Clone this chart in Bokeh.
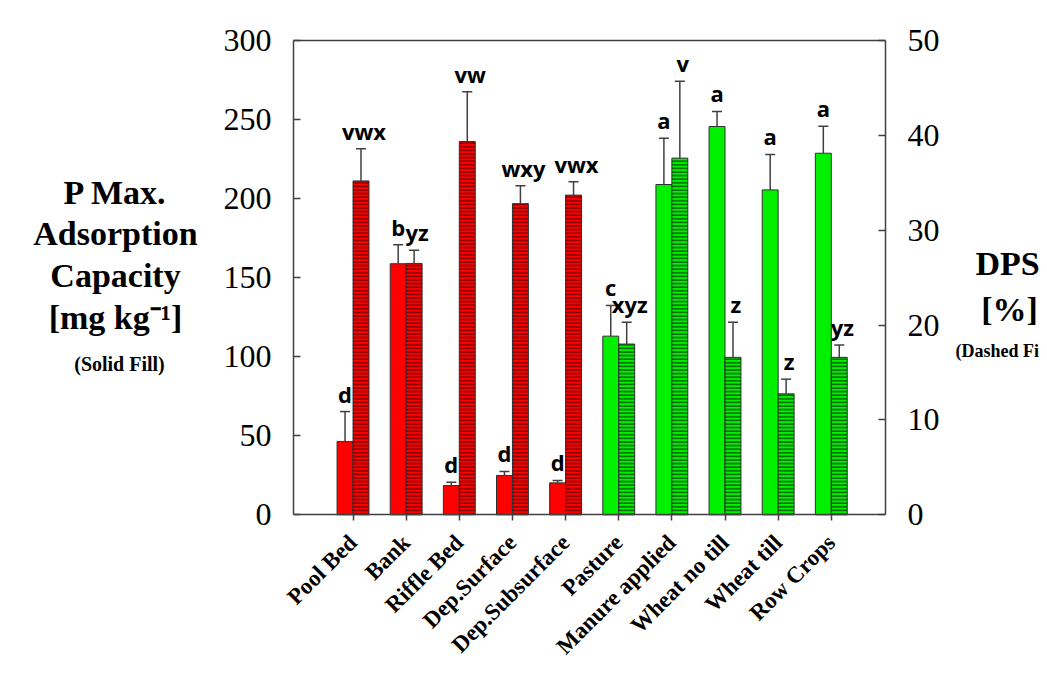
import numpy as np
from bokeh.plotting import figure
from bokeh.models import Range1d, LinearAxis, FixedTicker, Label, ColumnDataSource
from bokeh.embed import file_html
from bokeh.resources import INLINE
from bokeh.core.properties import value

# ---------------- data ----------------
categories = ["Pool Bed", "Bank", "Riffle Bed", "Dep.Surface", "Dep.Subsurface",
              "Pasture", "Manure applied", "Wheat no till", "Wheat till", "Row Crops"]
pmax = [46.4, 158.8, 18.5, 24.9, 20.2, 113.0, 208.9, 245.6, 205.5, 228.7]
pmax_err = [18.9, 12.0, 2.1, 2.5, 1.5, 19.4, 29.3, 9.5, 22.4, 17.1]
pmax_letters = ["d", "b", "d", "d", "d", "c", "a", "a", "a", "a"]
dps = [35.2, 26.5, 39.35, 32.8, 33.7, 18.0, 37.6, 16.6, 12.75, 16.6]
dps_err = [3.4, 1.4, 5.25, 1.9, 1.4, 2.3, 8.1, 3.7, 1.55, 1.3]
dps_letters = ["vwx", "yz", "vw", "wxy", "vwx", "xyz", "v", "z", "z", "yz"]
groups = ["stream"] * 5 + ["field"] * 5
left_ticks = [0, 50, 100, 150, 200, 250, 300]
right_ticks = [0, 10, 20, 30, 40, 50]

# ---------------- layout / styling ----------------
W, H = 1039, 660
PLOT_L, PLOT_R = 293, 885          # pixel positions of the left / right axes
PLOT_T, PLOT_B = 40, 514.3         # pixel positions of 300 and 0
X_LO, X_HI = -0.12, 11.02          # data x at the left / right axes
Y_LO, Y_HI = 0, 300
DPS_HI = 50

px_x = (PLOT_R - PLOT_L) / (X_HI - X_LO)
px_y = (PLOT_B - PLOT_T) / (Y_HI - Y_LO)
x_start = X_LO - PLOT_L / px_x
x_end = X_HI + (W - PLOT_R) / px_x
y_start = Y_LO - (H - PLOT_B) / px_y
y_end = Y_HI + PLOT_T / px_y
k = DPS_HI / Y_HI

RED = "#ff0000"
GREEN = "#00f000"
HATCH = {"stream": "#5a0000", "field": "#0a3a0a"}
AXIS = "#404040"
BAR_W = 0.3

pos = np.arange(1, len(categories) + 1)
fill = [RED if g == "stream" else GREEN for g in groups]
hatch_col = [HATCH[g] for g in groups]

src = ColumnDataSource(dict(
    xs=pos - BAR_W / 2, xh=pos + BAR_W / 2,
    pmax=pmax, pmax_top=[v + e for v, e in zip(pmax, pmax_err)], pl=pmax_letters,
    dps=dps, dps_top=[v + e for v, e in zip(dps, dps_err)], dl=dps_letters,
    fill=fill, hatch=hatch_col,
))

p = figure(width=W, height=H, output_backend="svg", toolbar_location=None,
           x_range=Range1d(x_start, x_end), y_range=Range1d(y_start, y_end),
           min_border=0)
p.extra_y_ranges = {"dps": Range1d(y_start * k, y_end * k)}
p.grid.visible = False
p.background_fill_color = "white"
p.border_fill_color = "white"
p.outline_line_color = None

# solid bars (P max)
p.vbar(x="xs", top="pmax", bottom=0, width=BAR_W, source=src,
       fill_color="fill", line_color="#303030", line_width=1)
# hatched bars (DPS)
p.vbar(x="xh", top="dps", bottom=0, width=BAR_W, source=src, y_range_name="dps",
       fill_color="fill", line_color="#303030", line_width=1,
       hatch_pattern="-", hatch_color="hatch", hatch_scale=3.6, hatch_weight=1.2)

# error bars
p.segment(x0="xs", y0="pmax", x1="xs", y1="pmax_top", source=src,
          line_color=AXIS, line_width=1.5)
p.scatter(x="xs", y="pmax_top", source=src, marker="dash", size=10,
          line_color=AXIS, line_width=1.5)
p.segment(x0="xh", y0="dps", x1="xh", y1="dps_top", source=src, y_range_name="dps",
          line_color=AXIS, line_width=1.5)
p.scatter(x="xh", y="dps_top", source=src, y_range_name="dps", marker="dash", size=10,
          line_color=AXIS, line_width=1.5)

# letters
lab_font = value("Open Sans")
p.text(x="xs", y="pmax_top", text="pl", source=src, text_align="center",
       text_baseline="alphabetic", y_offset=-18, text_font=lab_font,
       text_font_style="bold", text_font_size="22px", text_color="black")
p.text(x="xh", y="dps_top", text="dl", source=src, y_range_name="dps",
       text_align="center", text_baseline="alphabetic", y_offset=-18, x_offset=3,
       text_font=lab_font, text_font_style="bold", text_font_size="22px",
       text_color="black")

# axes (fixed in place so that the frame covers the whole canvas)
serif = "Liberation Serif"
ly = p.yaxis[0]
ly.ticker = FixedTicker(ticks=left_ticks)
ly.fixed_location = X_LO
ly.bounds = (Y_LO, Y_HI)
ry = LinearAxis(y_range_name="dps", ticker=FixedTicker(ticks=right_ticks),
                fixed_location=X_HI, bounds=(0, DPS_HI))
p.add_layout(ry, "right")
for ax in (ly, ry):
    ax.axis_line_color = AXIS
    ax.axis_line_width = 1.5
    ax.major_tick_line_color = AXIS
    ax.major_tick_line_width = 1.5
    ax.major_tick_in = 7
    ax.major_tick_out = 0
    ax.minor_tick_line_color = None
    ax.major_label_text_font = serif
    ax.major_label_text_font_size = "32px"
    ax.major_label_text_color = "black"
    ax.major_label_standoff = 22

xa = p.xaxis[0]
xa.fixed_location = Y_LO
xa.bounds = (X_LO, X_HI)
xa.ticker = FixedTicker(ticks=list(pos))
xa.major_label_overrides = {int(i): c for i, c in zip(pos, categories)}
xa.major_label_orientation = np.pi / 4
xa.major_label_text_font = serif
xa.major_label_text_font_style = "bold"
xa.major_label_text_font_size = "23px"
xa.major_label_text_color = "black"
xa.major_label_standoff = 18
xa.axis_line_color = AXIS
xa.axis_line_width = 1.5
xa.major_tick_line_color = AXIS
xa.major_tick_line_width = 1.5
xa.major_tick_in = 0
xa.major_tick_out = 6
xa.minor_tick_line_color = None

# top border of the plot area
top = LinearAxis(fixed_location=Y_HI, bounds=(X_LO, X_HI), ticker=FixedTicker(ticks=[]),
                 axis_line_color=AXIS, axis_line_width=1.5,
                 major_tick_line_color=None, minor_tick_line_color=None,
                 major_label_text_font_size="0px")
p.add_layout(top, "above")

# axis titles (screen units: pixels from the frame's bottom-left = canvas bottom-left)
def add_label(text, x, ypos, size, align="center"):
    p.add_layout(Label(x=x, y=H - ypos, x_units="screen", y_units="screen",
                       text=text, text_font=serif, text_font_style="bold",
                       text_font_size=size, text_align=align,
                       text_baseline="alphabetic", text_color="black"))

add_label("P Max.", 115, 192, "34px")
add_label("Adsorption", 115, 233, "34px")
add_label("Capacity", 115, 275, "34px")
add_label("[mg kg\u207b\u00b9]", 115, 317, "34px")
add_label("(Solid Fill)", 119, 363, "20px")
add_label("DPS", 1007, 263, "34px")
add_label("[%]", 1009, 309, "34px")
add_label("(Dashed Fill)", 955, 350, "18px", align="left")

open("out.html", "w").write(file_html(p, INLINE))
